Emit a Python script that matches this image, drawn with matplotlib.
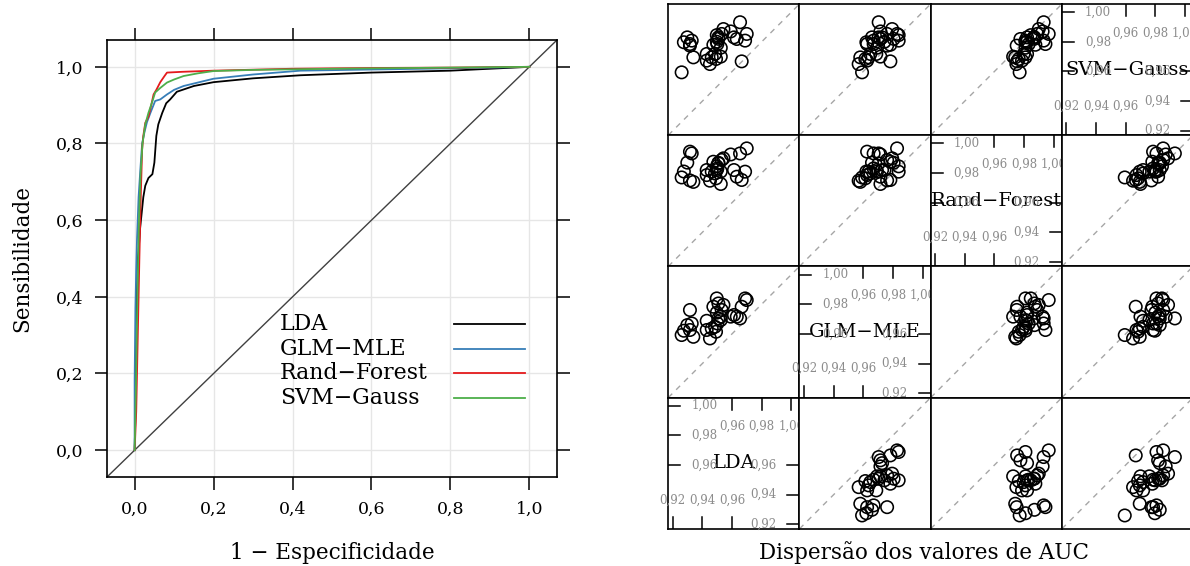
import matplotlib
matplotlib.use("Agg")  # headless backend
import matplotlib.pyplot as plt

plt.rcParams['font.family'] = 'DejaVu Serif'

W, H = 1190, 566

# ROC curves: (1 - especificidade, sensibilidade)
lda_fpr = [0, 0.003, 0.004, 0.008, 0.010, 0.014, 0.018, 0.022, 0.027, 0.035, 0.045, 0.050,
           0.055, 0.060, 0.070, 0.080, 0.090, 0.107, 0.15, 0.2, 0.3, 0.42, 0.6, 0.8, 0.9, 1.0]
lda_tpr = [0, 0.15, 0.35, 0.50, 0.52, 0.58, 0.62, 0.66, 0.69, 0.71, 0.72, 0.75,
           0.82, 0.85, 0.88, 0.905, 0.915, 0.935, 0.95, 0.96, 0.97, 0.978, 0.985, 0.99, 0.995, 1.0]

glm_fpr = [0, 0, 0.002, 0.004, 0.006, 0.010, 0.015, 0.019, 0.025, 0.031, 0.04, 0.052,
           0.065, 0.082, 0.1, 0.124, 0.2, 0.3, 0.42, 0.6, 0.8, 1.0]
glm_tpr = [0, 0.18, 0.37, 0.47, 0.55, 0.66, 0.74, 0.80, 0.83, 0.855, 0.88, 0.911,
           0.915, 0.928, 0.94, 0.950, 0.969, 0.98, 0.99, 0.993, 0.996, 1.0]

rf_fpr = [0, 0.004, 0.008, 0.012, 0.016, 0.019, 0.022, 0.027, 0.035, 0.042, 0.048,
          0.055, 0.065, 0.075, 0.082, 0.12, 0.2, 0.4, 0.6, 0.8, 1.0]
rf_tpr = [0, 0.1, 0.3, 0.5, 0.68, 0.785, 0.82, 0.854, 0.87, 0.9, 0.928,
          0.94, 0.96, 0.975, 0.985, 0.987, 0.99, 0.995, 0.997, 0.998, 1.0]

svm_fpr = [0, 0.003, 0.007, 0.011, 0.015, 0.02, 0.027, 0.035, 0.045, 0.052, 0.065,
           0.082, 0.1, 0.124, 0.16, 0.2, 0.3, 0.5, 0.7, 1.0]
svm_tpr = [0, 0.15, 0.4, 0.6, 0.72, 0.8, 0.85, 0.88, 0.91, 0.933, 0.945,
           0.959, 0.967, 0.976, 0.983, 0.989, 0.992, 0.995, 0.997, 1.0]

model_names = ["LDA", "GLM\u2212MLE", "Rand\u2212Forest", "SVM\u2212Gauss"]
model_colors = ["black", "#377EB8", "#E41A1C", "#4DAF4A"]

# AUC per resample, one value per model
auc_lda = [0.9654, 0.9632, 0.9613, 0.9591, 0.9665, 0.9699, 0.9688, 0.9451, 0.9492, 0.9485,
           0.9501, 0.9508, 0.9429, 0.9429, 0.9524, 0.9530, 0.9542, 0.9508, 0.9497, 0.9474,
           0.9497, 0.9339, 0.9316, 0.9328, 0.9298, 0.9260, 0.9275, 0.9316, 0.9524, 0.9463]
auc_glm = [0.9704, 0.9716, 0.9727, 0.9716, 0.9783, 0.9828, 0.9839, 0.9569, 0.9614, 0.9648,
           0.9670, 0.9704, 0.9626, 0.9688, 0.9716, 0.9761, 0.9795, 0.9805, 0.9839, 0.9783,
           0.9743, 0.9580, 0.9626, 0.9670, 0.9659, 0.9592, 0.9621, 0.9761, 0.9693, 0.9636]
auc_rf = [0.9932, 0.9775, 0.9820, 0.9925, 0.9753, 0.9966, 0.9809, 0.9748, 0.9764, 0.9797,
          0.9831, 0.9865, 0.9786, 0.9820, 0.9726, 0.9888, 0.9899, 0.9869, 0.9845, 0.9876,
          0.9820, 0.9740, 0.9944, 0.9932, 0.9870, 0.9770, 0.9810, 0.9750, 0.9810, 0.9809]
auc_svm = [0.9932, 0.9819, 0.9830, 0.9870, 0.9668, 0.9853, 0.9808, 0.9650, 0.9684, 0.9718,
           0.9785, 0.9830, 0.9673, 0.9718, 0.9700, 0.9853, 0.9886, 0.9820, 0.9845, 0.9780,
           0.9800, 0.9695, 0.9785, 0.9808, 0.9830, 0.9594, 0.9797, 0.9774, 0.9760, 0.9695]

roc_ticks = [0.0, 0.2, 0.4, 0.6, 0.8, 1.0]
auc_ticks = [0.92, 0.94, 0.96, 0.98, 1.00]


def comma(v, nd):
    return f"{v:.{nd}f}".replace(".", ",")


def px_axes(fig, x0, y0, w, h):
    # place an axes using pixel coordinates measured from the top-left corner
    return fig.add_axes([x0 / W, 1 - (y0 + h) / H, w / W, h / H])


fig = plt.figure(figsize=(W / 100, H / 100), dpi=100)

# ---------------------------------------------------------------- ROC panel
ax = px_axes(fig, 107, 40, 450, 437)
lim = (-0.07, 1.07)
ax.set_xlim(lim)
ax.set_ylim(lim)
ax.set_xticks(roc_ticks)
ax.set_yticks(roc_ticks)
ax.set_xticklabels([comma(v, 1) for v in roc_ticks])
ax.set_yticklabels([comma(v, 1) for v in roc_ticks])
ax.tick_params(direction='out', length=9, width=1.1, top=True, right=True,
               labelsize=12.5, pad=8)
ax.grid(color='#e6e6e6', lw=1)
ax.set_axisbelow(True)
for s in ax.spines.values():
    s.set_linewidth(1.2)

ax.plot(lim, lim, color='#404040', lw=1)
curves = [(lda_fpr, lda_tpr), (glm_fpr, glm_tpr), (rf_fpr, rf_tpr), (svm_fpr, svm_tpr)]
for (fx, ty), col in zip(curves, model_colors):
    ax.plot(fx, ty, color=col, lw=1.3)

# key: names on the left, line samples on the right
key_y = [0.328, 0.265, 0.202, 0.137]
for name, col, yk in zip(model_names, model_colors, key_y):
    ax.text(0.368, yk, name, fontsize=15.8, ha='left', va='center')
    ax.plot([0.81, 0.99], [yk, yk], color=col, lw=1.3)

fig.text(332 / W, 1 - 553 / H, "1 \u2212 Especificidade", fontsize=15.5,
         ha='center', va='center')
fig.text(22 / W, 1 - 258 / H, "Sensibilidade", fontsize=15.5, rotation=90,
         ha='center', va='center')

# ---------------------------------------------------------------- scatter matrix
auc_vals = [auc_lda, auc_glm, auc_rf, auc_svm]
lo, hi = 0.917, 1.0055
cell = 131.2
x_start, y_start = 668.3, 4.0
unit = (hi - lo) / cell  # data units per pixel
tick_len = 12 * unit
lab_in = 36 * unit
lab_v = 29 * unit
lab_color = '#8c8c8c'
lab_size = 8.5

for r in range(4):
    for c in range(4):
        vy = 3 - r
        vx = c
        pax = px_axes(fig, x_start + c * cell, y_start + r * cell, cell, cell)
        pax.set_xlim(lo, hi)
        pax.set_ylim(lo, hi)
        pax.set_xticks([])
        pax.set_yticks([])
        for s in pax.spines.values():
            s.set_linewidth(1.2)
        if vx == vy:
            pax.text((lo + hi) / 2, (lo + hi) / 2, model_names[vx], fontsize=14,
                     ha='center', va='center', zorder=3)
            upper = [t for t in auc_ticks if t >= 0.96]
            lower = [t for t in auc_ticks if t <= 0.96]
            for t in upper:
                pax.plot([lo, lo + tick_len], [t, t], color='black', lw=1.1)
                pax.text(lo + lab_in, t, comma(t, 2), fontsize=lab_size, color=lab_color,
                         ha='center', va='center')
                pax.plot([t, t], [hi, hi - tick_len], color='black', lw=1.1)
                pax.text(t, hi - lab_v, comma(t, 2), fontsize=lab_size, color=lab_color,
                         ha='center', va='center')
            for t in lower:
                pax.plot([hi, hi - tick_len], [t, t], color='black', lw=1.1)
                pax.text(hi - lab_in, t, comma(t, 2), fontsize=lab_size, color=lab_color,
                         ha='center', va='center')
                pax.plot([t, t], [lo, lo + tick_len], color='black', lw=1.1)
                pax.text(t, lo + lab_v, comma(t, 2), fontsize=lab_size, color=lab_color,
                         ha='center', va='center')
        else:
            pax.plot([lo, hi], [lo, hi], color='#a6a6a6', lw=1, ls=(0, (4, 4)))
            pax.scatter(auc_vals[vx], auc_vals[vy], s=80, facecolors='none',
                        edgecolors='black', linewidths=1.15, zorder=3)

fig.text(924 / W, 1 - 553 / H, "Dispers\u00e3o dos valores de AUC", fontsize=15.5,
         ha='center', va='center')

fig.savefig("out.png", dpi=100)
